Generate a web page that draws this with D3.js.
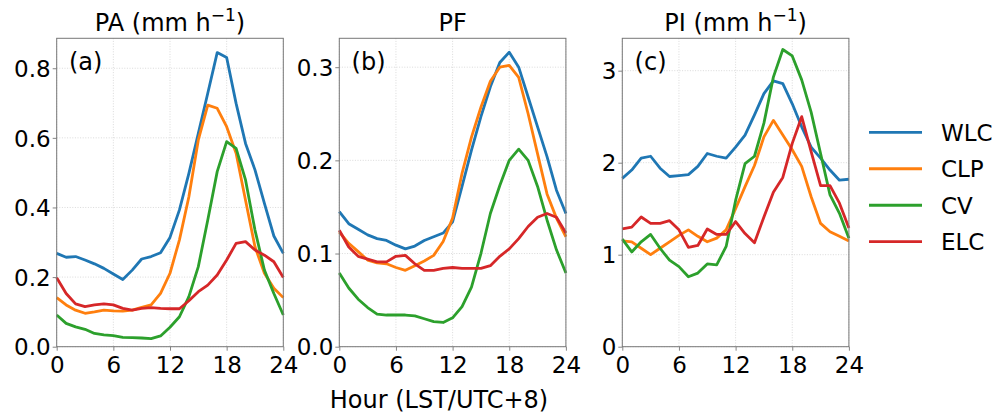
<!DOCTYPE html>
<html>
<head>
<meta charset="utf-8">
<script src="https://cdn.jsdelivr.net/npm/d3@7"></script>
<style>
    body { margin: 0; background: #fff; }
    text { font-family: "DejaVu Sans", sans-serif; fill: #000; }
    .grid line { stroke: #d0d0d0; stroke-width: 0.8; stroke-dasharray: 1, 1.6; }
</style>
</head>
<body>
<script>
// hours 0..24
var hours = d3.range(0, 25);

var regions = ["WLC", "CLP", "CV", "ELC"];
var colors = ["#1f77b4", "#ff7f0e", "#2ca02c", "#d62728"];

// (a) PA, mm h-1
var pa_wlc = [0.268, 0.257, 0.259, 0.249, 0.238, 0.225, 0.209, 0.193, 0.220, 0.252, 0.259, 0.270, 0.314,
              0.393, 0.498, 0.613, 0.728, 0.845, 0.831, 0.699, 0.584, 0.508, 0.412, 0.318, 0.268];
var pa_clp = [0.141, 0.120, 0.105, 0.096, 0.100, 0.105, 0.103, 0.102, 0.105, 0.113, 0.120, 0.153, 0.211,
              0.307, 0.431, 0.594, 0.694, 0.685, 0.632, 0.556, 0.421, 0.287, 0.211, 0.168, 0.141];
var pa_cv  = [0.091, 0.067, 0.057, 0.050, 0.038, 0.034, 0.032, 0.027, 0.026, 0.025, 0.023, 0.031, 0.056,
              0.086, 0.144, 0.230, 0.364, 0.503, 0.589, 0.570, 0.479, 0.335, 0.220, 0.153, 0.091];
var pa_elc = [0.198, 0.153, 0.123, 0.115, 0.120, 0.123, 0.120, 0.110, 0.105, 0.110, 0.112, 0.110, 0.109,
              0.109, 0.132, 0.158, 0.177, 0.206, 0.249, 0.297, 0.302, 0.278, 0.263, 0.244, 0.199];

// (b) PF
var pf_wlc = [0.145, 0.132, 0.126, 0.120, 0.116, 0.114, 0.109, 0.105, 0.108, 0.114, 0.118, 0.122, 0.134,
              0.172, 0.211, 0.247, 0.279, 0.305, 0.316, 0.300, 0.268, 0.236, 0.204, 0.168, 0.143];
var pf_clp = [0.123, 0.111, 0.102, 0.093, 0.090, 0.089, 0.085, 0.082, 0.087, 0.092, 0.098, 0.113, 0.138,
              0.186, 0.225, 0.257, 0.285, 0.300, 0.302, 0.289, 0.250, 0.207, 0.164, 0.138, 0.118];
var pf_cv  = [0.079, 0.063, 0.051, 0.042, 0.035, 0.034, 0.034, 0.034, 0.033, 0.030, 0.027, 0.026, 0.031,
              0.043, 0.064, 0.100, 0.143, 0.173, 0.200, 0.212, 0.200, 0.172, 0.136, 0.104, 0.079];
var pf_elc = [0.125, 0.107, 0.097, 0.094, 0.091, 0.091, 0.097, 0.098, 0.089, 0.082, 0.082, 0.084, 0.085,
              0.084, 0.084, 0.084, 0.087, 0.097, 0.105, 0.116, 0.129, 0.139, 0.143, 0.139, 0.122];

// (c) PI, mm h-1
var pi_wlc = [1.83, 1.92, 2.05, 2.07, 1.94, 1.85, 1.86, 1.87, 1.96, 2.10, 2.07, 2.05, 2.17,
              2.30, 2.52, 2.75, 2.89, 2.86, 2.64, 2.39, 2.17, 2.05, 1.92, 1.81, 1.82];
var pi_clp = [1.15, 1.14, 1.07, 1.00, 1.07, 1.14, 1.21, 1.27, 1.20, 1.14, 1.18, 1.27, 1.50,
              1.74, 1.97, 2.28, 2.46, 2.30, 2.14, 1.96, 1.63, 1.34, 1.25, 1.20, 1.15];
var pi_cv  = [1.17, 1.03, 1.14, 1.22, 1.07, 0.94, 0.87, 0.76, 0.80, 0.90, 0.89, 1.09, 1.59,
              1.99, 2.07, 2.43, 2.93, 3.23, 3.16, 2.90, 2.55, 2.10, 1.65, 1.45, 1.18];
var pi_elc = [1.28, 1.30, 1.41, 1.34, 1.34, 1.37, 1.27, 1.08, 1.10, 1.28, 1.22, 1.22, 1.36,
              1.23, 1.13, 1.41, 1.68, 1.84, 2.21, 2.50, 2.12, 1.75, 1.75, 1.56, 1.29];

// tick labels
var xTicks = [0, 6, 12, 18, 24];
var paTicks = [0, 0.2, 0.4, 0.6, 0.8];
var pfTicks = [0, 0.1, 0.2, 0.3];
var piTicks = [0, 1, 2, 3];

var width = 1005;
var height = 415;

var svg = d3.select("body")
            .append("svg")
            .attr("width", width)
            .attr("height", height);

var top_y = 38.3;     // top of each plot box
var bottom_y = 346.7; // bottom of each plot box
var box_w = 226.6;

var panels = [
    {left: 56.7, title: "PA (mm h", sup: true, label: "(a)", ymax: 0.886, ticks: paTicks, fmt: d3.format(".1f"),
     series: [pa_wlc, pa_clp, pa_cv, pa_elc]},
    {left: 339.3, title: "PF", sup: false, label: "(b)", ymax: 0.331, ticks: pfTicks, fmt: d3.format(".1f"),
     series: [pf_wlc, pf_clp, pf_cv, pf_elc]},
    {left: 622.3, title: "PI (mm h", sup: true, label: "(c)", ymax: 3.352, ticks: piTicks, fmt: d3.format("d"),
     series: [pi_wlc, pi_clp, pi_cv, pi_elc]}
];

panels.forEach(function(p) {
    var xScale = d3.scaleLinear().domain([0, 24]).range([p.left, p.left + box_w]);
    var yScale = d3.scaleLinear().domain([0, p.ymax]).range([bottom_y, top_y]);

    var g = svg.append("g");

    // dotted grid
    var grid = g.append("g").attr("class", "grid");
    grid.selectAll(".gx")
        .data(xTicks)
        .enter()
        .append("line")
        .attr("x1", function(d) { return xScale(d); })
        .attr("x2", function(d) { return xScale(d); })
        .attr("y1", top_y)
        .attr("y2", bottom_y);
    grid.selectAll(".gy")
        .data(p.ticks)
        .enter()
        .append("line")
        .attr("x1", p.left)
        .attr("x2", p.left + box_w)
        .attr("y1", function(d) { return yScale(d); })
        .attr("y2", function(d) { return yScale(d); });

    // the four region curves
    var line = d3.line()
                 .x(function(d, i) { return xScale(hours[i]); })
                 .y(function(d) { return yScale(d); });

    p.series.forEach(function(s, i) {
        g.append("path")
            .datum(s)
            .attr("fill", "none")
            .attr("stroke", colors[i])
            .attr("stroke-width", 2.8)
            .attr("stroke-linejoin", "round")
            .attr("d", line);
    });

    // axes
    var xAxis = d3.axisBottom(xScale).tickValues(xTicks).tickSize(4).tickPadding(6);
    var yAxis = d3.axisLeft(yScale).tickValues(p.ticks).tickFormat(p.fmt).tickSize(4).tickPadding(2);

    var gx = g.append("g")
        .attr("transform", "translate(0," + bottom_y + ")")
        .call(xAxis);
    var gy = g.append("g")
        .attr("transform", "translate(" + p.left + ",0)")
        .call(yAxis);

    [gx, gy].forEach(function(a) {
        a.select(".domain").remove();
        a.selectAll("line").attr("stroke", "#777").attr("stroke-width", 0.9);
        a.selectAll("text")
            .attr("font-size", "23px")
            .attr("font-family", "DejaVu Sans")
            .attr("fill", "#000");
    });
    gy.selectAll("text").attr("dy", "0.36em");

    // frame on top
    g.append("rect")
        .attr("x", p.left)
        .attr("y", top_y)
        .attr("width", box_w)
        .attr("height", bottom_y - top_y)
        .attr("fill", "none")
        .attr("stroke", "#777")
        .attr("stroke-width", 1);

    // title
    var t = g.append("text")
        .attr("x", p.left + box_w / 2)
        .attr("y", 31)
        .attr("text-anchor", "middle")
        .attr("font-size", "24px")
        .text(p.title);
    if (p.sup) {
        t.append("tspan").attr("font-size", "17px").attr("dy", -10).text("\u22121");
        t.append("tspan").attr("dy", 10).text(")");
    }

    // panel letter
    g.append("text")
        .attr("x", p.left + 12.3)
        .attr("y", 70)
        .attr("font-size", "24px")
        .text(p.label);
});

// x-axis label
svg.append("text")
    .attr("x", 439)
    .attr("y", 408)
    .attr("text-anchor", "middle")
    .attr("font-size", "24px")
    .text("Hour (LST/UTC+8)");

// legend
var legendY = d3.scalePoint().domain(regions).range([132.3, 241.7]);
var legend = svg.selectAll(".legend")
                .data(regions)
                .enter()
                .append("g")
                .attr("transform", function(d) { return "translate(869," + legendY(d) + ")"; });
legend.append("line")
    .attr("x1", 0)
    .attr("x2", 53)
    .attr("stroke", function(d, i) { return colors[i]; })
    .attr("stroke-width", 2.8);
legend.append("text")
    .attr("x", 72)
    .attr("dy", "0.36em")
    .attr("font-size", "23px")
    .text(function(d) { return d; });
</script>
</body>
</html>
